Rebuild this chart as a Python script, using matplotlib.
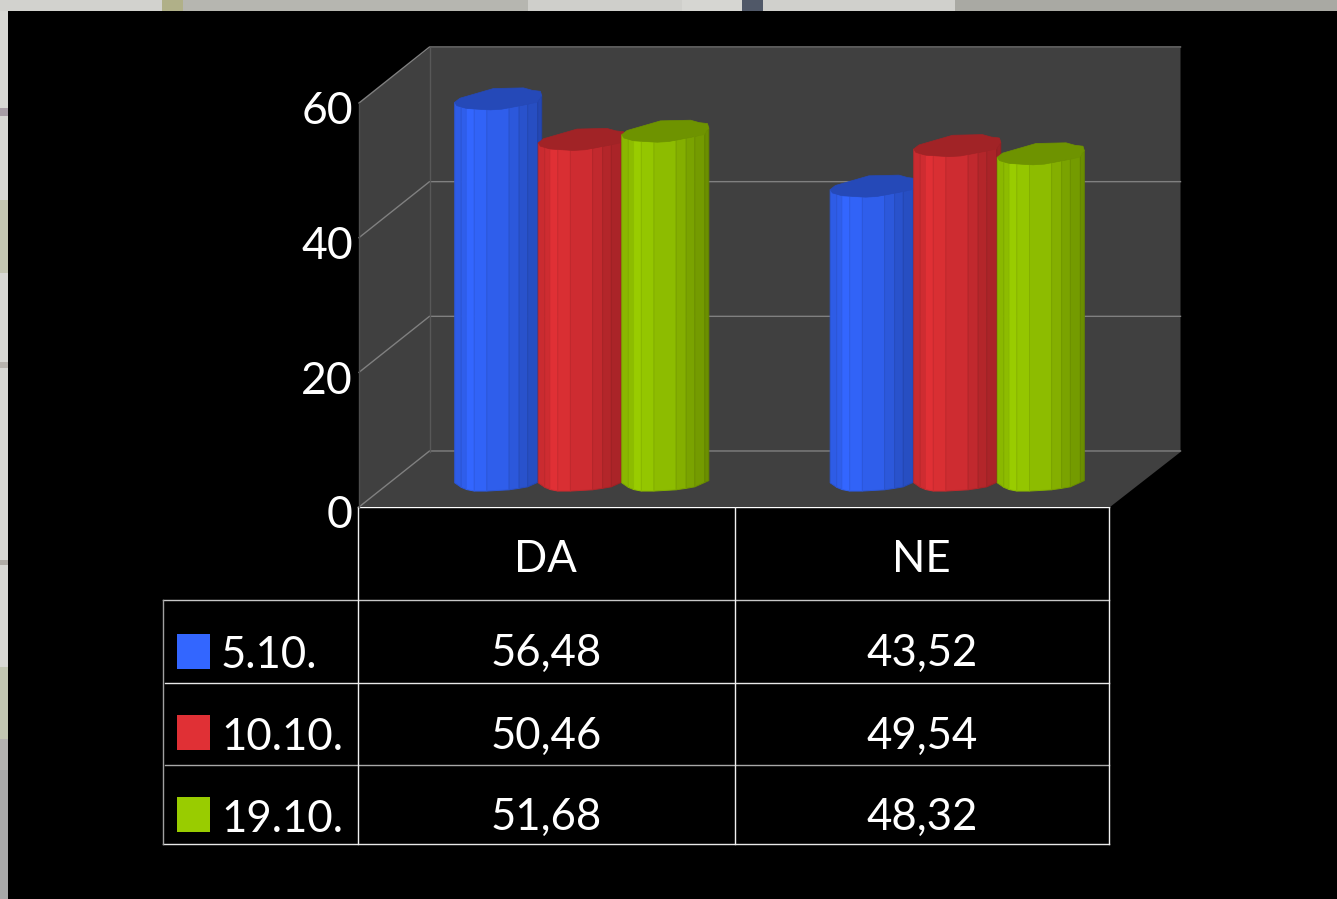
import numpy as np
import matplotlib
matplotlib.use('Agg')
import matplotlib.pyplot as plt
from matplotlib.patches import Rectangle
from matplotlib.transforms import Affine2D

# dane z wykresu
categories = ['DA', 'NE']
series_names = ['5.10.', '10.10.', '19.10.']
values_5_10 = [56.48, 43.52]
values_10_10 = [50.46, 49.54]
values_19_10 = [51.68, 48.32]
value_labels = [['56,48', '43,52'], ['50,46', '49,54'], ['51,68', '48,32']]
y_ticks = [0, 20, 40, 60]

series = [values_5_10, values_10_10, values_19_10]
colors = ['#3366FF', '#E03035', '#99CC00']

W, H = 1337, 899
plt.rcParams['font.family'] = ['Lato', 'DejaVu Sans']

fig = plt.figure(figsize=(W / 100, H / 100), dpi=100, facecolor='#D8D8D4')

# tlo w pikselach: fragmenty zdjecia na brzegach, czarny prostokat i tabela
bg = fig.add_axes([0, 0, 1, 1])
bg.set_xlim(0, W)
bg.set_ylim(H, 0)
bg.axis('off')
top_strip = [(0, 162, '#d2d2ce'), (162, 183, '#b0b088'), (183, 528, '#b6b6b0'), (528, 682, '#cfcfcb'),
             (682, 742, '#d6d6d2'), (742, 763, '#505868'), (763, 955, '#d0d0cc'), (955, 1337, '#a9a9a3')]
for x0, x1, c in top_strip:
    bg.add_patch(Rectangle((x0, 0), x1 - x0, 11, color=c, lw=0))
left_strip = [(108, 8, '#a89ea6'), (200, 73, '#c4c6b2'), (362, 6, '#b8b4ae'), (560, 5, '#b0aca6'),
              (667, 72, '#c2c6b2'), (739, 31, '#b4b2b0'), (770, 129, '#a8a8a8')]
for y0, h, c in left_strip:
    bg.add_patch(Rectangle((0, y0), 8, h, color=c, lw=0))
bg.add_patch(Rectangle((8, 11), W, H, color='black', lw=0))

# przednia plaszczyzna wykresu
left, right, bottom, top = 359, 1110, 507, 103
ax = fig.add_axes([left / W, 1 - bottom / H, (right - left) / W, (bottom - top) / H])
ax.set_xlim(0, 2)
ax.set_ylim(0, 60)
ax.patch.set_alpha(0)
for s in ax.spines.values():
    s.set_visible(False)
ax.set_xticks([])
ax.set_yticks(y_ticks)
ax.tick_params(axis='y', length=0, pad=4.5, labelsize=32, labelcolor='white')
for lab in ax.get_yticklabels():
    lab.set_transform(lab.get_transform() + Affine2D().translate(0, -5))

x_px = (right - left) / 2
y_px = (bottom - top) / 60
depth_x, depth_y = 70.5 / x_px, 55 / y_px

# sciany i podloga
wall = '#404040'
ax.fill([0, depth_x, 2 + depth_x, 2 + depth_x, 2, 0],
        [60, 60 + depth_y, 60 + depth_y, depth_y, 0, 0],
        color=wall, lw=0, zorder=1, clip_on=False)
for t in y_ticks:
    ax.plot([0, depth_x, 2 + depth_x], [t, t + depth_y + .15, t + depth_y + .15], color='#808080', lw=1,
            zorder=2, clip_on=False)
ax.plot([depth_x, depth_x], [depth_y, 60 + depth_y], color='#585858', lw=1, zorder=2, clip_on=False)
ax.plot([0, 0], [0, 60], color='#4c4c4c', lw=1, zorder=2, clip_on=False)

# walce: kazdy slupek sklada sie z pionowych scianek
bar_shift = ax.transData + Affine2D().translate(35, 27.5)
bar_step = 0.2225
half_w = 43.5 / x_px
half_h = 11 / y_px
facet_u = [-1, -.85, -.73, -.55, -.26, .25, .48, .68, .91, 1]
facet_shade = [.90, .92, 1.0, .97, .92, .86, .80, .76, .70]
front_u = [-1, -.8, -.57, .05, .66, 1]
front_v = [-.3, -.85, -1.05, -1.05, -.7, -.1]
lid_u = [-1, -.88, -.11, .58, .78, .97, 1, .89, .08, -.18, -.72, -.95]
lid_v = [-.28, .09, .97, 1.03, .81, .72, .34, -.28, -.91, -.97, -.84, -.59]
low_u = [-1, -.95, -.72, -.18, .08, .89, 1]
low_v = [-.28, -.59, -.84, -.97, -.91, -.28, .34]

for i, vals in enumerate(series):
    base = np.array(matplotlib.colors.to_rgb(colors[i]))
    for j, v in enumerate(vals):
        cx = j + .5 + (i - 1) * bar_step
        for k in range(len(facet_shade)):
            u0, u1 = facet_u[k], facet_u[k + 1]
            x0, x1 = cx + u0 * half_w, cx + u1 * half_w
            b0 = np.interp(u0, front_u, front_v) * half_h
            b1 = np.interp(u1, front_u, front_v) * half_h
            t0 = np.interp(u0, low_u, low_v) * half_h
            t1 = np.interp(u1, low_u, low_v) * half_h
            ax.fill([x0, x1, x1, x0], [b0, b1, v + t1, v + t0],
                    facecolor=base * facet_shade[k], edgecolor=base * facet_shade[k] * .93, lw=.7,
                    transform=bar_shift, zorder=3 + i, clip_on=False)
        ax.fill(cx + np.array(lid_u) * half_w, v + np.array(lid_v) * half_h,
                color=base * .72, lw=.5, transform=bar_shift, zorder=3 + i, clip_on=False)

# tabela pod wykresem
col_x = [358, 734.5, 1109]
line = dict(lw=1, zorder=1)
bg.plot([358, 1109], [507, 507], color='white', **line)
bg.plot([162.5, 1109], [600, 600], color='#c8c8c8', **line)
bg.plot([165, 1109], [683, 683], color='#e8e8e8', **line)
bg.plot([165, 1109], [765, 765], color='#a8a8a8', **line)
bg.plot([162.5, 1109], [844, 844], color='#e8e8e8', **line)
bg.plot([162.5, 162.5], [600, 844], color='#a0a0a0', **line)
for x in col_x:
    bg.plot([x, x], [507, 844], color='#f0f0f0', **line)

font = dict(color='white', fontsize=31.5, va='center')
col_center = [546, 922]
for j, c in enumerate(categories):
    bg.text(col_center[j] - 1, 560, c, ha='center', **font)
row_center = [653, 736, 817]
swatch_top = [634, 715, 797]
for i, name in enumerate(series_names):
    bg.add_patch(Rectangle((177, swatch_top[i]), 33, 35, color=colors[i], lw=0))
    bg.text(221, row_center[i] + 2, name, ha='left', **font)
    for j in range(2):
        bg.text(col_center[j], row_center[i], value_labels[i][j], ha='center', **font)

fig.savefig('out.png', dpi=100, facecolor=fig.get_facecolor())
